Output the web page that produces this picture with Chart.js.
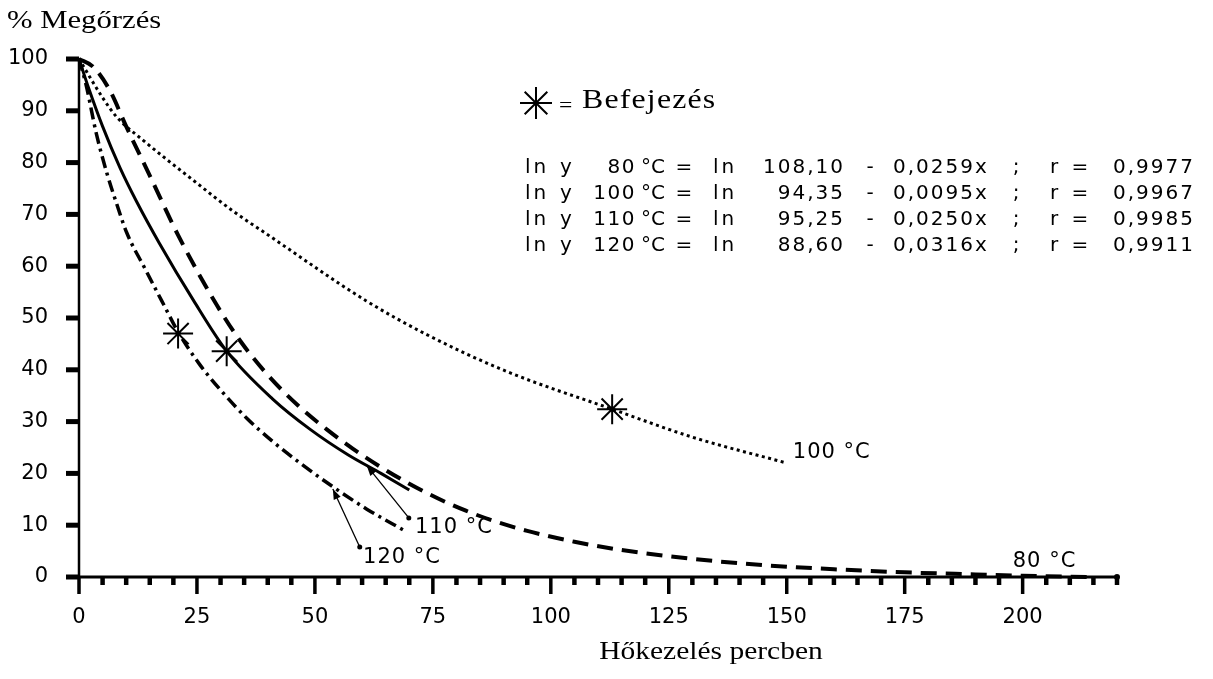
<!DOCTYPE html>
<html>
<head>
<meta charset="utf-8">
<script src="https://cdn.jsdelivr.net/npm/chart.js@4.4.1/dist/chart.umd.min.js"></script>
<style>
  html, body { margin: 0; background: #fff; }
  canvas { display: block; }
</style>
</head>
<body>
<canvas id="chart" width="1213" height="679"></canvas>
<script>
// Hőkezelés ideje (perc) és megőrzés (%) görbénként
const minutes80 = [0, 3, 6.5, 10, 15, 21, 29.2, 34, 39.8, 46.8, 52.5, 58, 64, 70, 76, 82, 88, 95, 105, 115, 130, 145, 160, 175, 190, 200, 214];
const retention80 = [100, 98.5, 94, 87, 77.5, 66, 52.5, 45.8, 39.2, 32.8, 28.5, 24.8, 21.2, 18, 15.2, 12.8, 10.8, 8.9, 6.8, 5.2, 3.5, 2.3, 1.5, 0.9, 0.5, 0.25, 0];

const minutes100 = [0, 5.1, 8, 13.6, 24.2, 32.7, 39.8, 60.9, 73.7, 90.6, 113, 130, 150];
const retention100 = [100, 92.4, 88.8, 84.3, 76.6, 70.6, 66.2, 53.3, 46.8, 39.7, 32.4, 27, 22];

const minutes110 = [0, 2, 5, 8.7, 12.2, 17, 24.2, 31.3, 41, 49, 57, 64, 70];
const retention110 = [100, 94.5, 87, 79, 72.5, 64.5, 53.5, 43.6, 34.4, 28.5, 23.6, 20, 16.8];

const minutes120 = [0, 1.5, 3.7, 5.9, 8, 10.1, 14, 18, 21, 25.6, 30, 35.5, 41, 47, 54, 61, 69.5];
const retention120 = [100, 95, 85.5, 78, 72, 66.5, 59.5, 52.5, 47.3, 41, 36.1, 30.7, 26.2, 21.9, 17.3, 13.1, 8.7];

// Befejezés pontok (csillag)
const finishMinutes = [21, 31.3, 113];
const finishRetention = [47, 43.6, 32.4];

// tengely feliratok
const xTickValues = [0, 25, 50, 75, 100, 125, 150, 175, 200];
const yTickValues = [0, 10, 20, 30, 40, 50, 60, 70, 80, 90, 100];

// regressziós egyenletek
const eqTemps = ['80', '100', '110', '120'];
const eqIntercepts = ['108,10', '94,35', '95,25', '88,60'];
const eqSlopes = ['0,0259x', '0,0095x', '0,0250x', '0,0316x'];
const eqR = ['0,9977', '0,9967', '0,9985', '0,9911'];

function zip(xs, ys) {
    return xs.map((x, i) => ({ x: x, y: ys[i] }));
}

Chart.defaults.font.family = '"DejaVu Sans"';
Chart.defaults.color = '#000';

function line(ctx, x1, y1, x2, y2) {
    ctx.beginPath();
    ctx.moveTo(x1, y1);
    ctx.lineTo(x2, y2);
    ctx.stroke();
}

function serifText(ctx, text, x, y, size, align) {
    ctx.save();
    ctx.font = size + 'px "Liberation Serif"';
    ctx.textBaseline = 'middle';
    ctx.textAlign = align;
    ctx.translate(x, y);
    ctx.scale(1.18, 1);
    ctx.fillText(text, 0, 0);
    ctx.restore();
}

const annotate = {
    id: 'annotate',
    beforeDatasetsDraw(chart) {
        const { ctx, chartArea: a, scales } = chart;
        const sx = scales.x, sy = scales.y;
        ctx.save();
        ctx.strokeStyle = '#000';
        ctx.fillStyle = '#000';
        // y tengely
        ctx.lineWidth = 2.5;
        line(ctx, a.left, a.top - 1, a.left, a.bottom);
        yTickValues.forEach(v => {
            const py = sy.getPixelForValue(v);
            ctx.lineWidth = 5;
            line(ctx, a.left - 13, py, a.left, py);
        });
        // x tengely
        ctx.lineWidth = 3;
        line(ctx, a.left, a.bottom, a.right, a.bottom);
        for (let v = 0; v <= 220; v += 5) {
            const px = sx.getPixelForValue(v);
            const major = v % 25 === 0;
            ctx.lineWidth = major ? 3.5 : 4.5;
            line(ctx, px, a.bottom, px, a.bottom + (major ? 17 : 8));
        }
        ctx.beginPath();
        ctx.arc(a.right, a.bottom, 3, 0, Math.PI * 2);
        ctx.fill();
        ctx.restore();
    },
    afterDatasetsDraw(chart) {
        const { ctx, scales } = chart;
        const sx = scales.x, sy = scales.y;
        const P = (x, y) => [sx.getPixelForValue(x), sy.getPixelForValue(y)];
        ctx.save();
        ctx.fillStyle = '#000';
        ctx.strokeStyle = '#000';

        // görbe feliratok
        ctx.font = '21px "DejaVu Sans"';
        ctx.letterSpacing = '1px';
        ctx.textBaseline = 'middle';
        ctx.textAlign = 'left';
        [['100 °C', 151.3, 24.1], ['80 °C', 197.9, 2.9], ['110 °C', 71.2, 9.5], ['120 °C', 60.2, 3.7]]
            .forEach(([t, x, y]) => {
                const p = P(x, y);
                ctx.fillText(t, p[0], p[1]);
            });

        // mutató nyilak
        [[[69.9, 11.4], [61, 21.5]], [[59.5, 5.8], [53.8, 17]]].forEach(([from, to]) => {
            const a = P(from[0], from[1]), b = P(to[0], to[1]);
            ctx.lineWidth = 1.3;
            line(ctx, a[0], a[1], b[0], b[1]);
            ctx.beginPath();
            ctx.arc(a[0], a[1], 2.5, 0, Math.PI * 2);
            ctx.fill();
            const ang = Math.atan2(b[1] - a[1], b[0] - a[0]);
            ctx.beginPath();
            ctx.moveTo(b[0], b[1]);
            ctx.lineTo(b[0] - 11 * Math.cos(ang - 0.35), b[1] - 11 * Math.sin(ang - 0.35));
            ctx.lineTo(b[0] - 11 * Math.cos(ang + 0.35), b[1] - 11 * Math.sin(ang + 0.35));
            ctx.closePath();
            ctx.fill();
        });

        // jelmagyarázat
        ctx.lineWidth = 2;
        Chart.helpers.drawPoint(ctx, { pointStyle: 'star', radius: 16, borderWidth: 2, rotation: 0 }, 536, 103);
        serifText(ctx, '=', 559, 107, 20, 'left');
        serifText(ctx, 'Befejezés', 582, 101, 27, 'left');

        // egyenletek
        ctx.font = '20px "DejaVu Sans"';
        ctx.textBaseline = 'middle';
        const rows = [168, 194, 220, 246];
        rows.forEach((ry, i) => {
            const put = (t, x, align, sp) => {
                ctx.letterSpacing = sp + 'px';
                ctx.textAlign = align;
                ctx.fillText(t, x, ry);
            };
            put('ln', 525, 'left', 3);
            put('y', 560, 'left', 0);
            put(eqTemps[i], 636, 'right', 1.5);
            put('°C', 641, 'left', 0);
            put('=', 684, 'center', 0);
            put('ln', 713, 'left', 3);
            put(eqIntercepts[i], 845, 'right', 2);
            put('-', 870, 'center', 0);
            put(eqSlopes[i], 893, 'left', 2);
            put(';', 1016, 'center', 0);
            put('r', 1050, 'left', 0);
            put('=', 1080, 'center', 0);
            put(eqR[i], 1113, 'left', 2);
        });
        ctx.letterSpacing = '0px';

        // tengelycímek
        serifText(ctx, '% Megőrzés', 7, 21, 26, 'left');
        serifText(ctx, 'Hőkezelés percben', 711, 652, 25, 'center');
        ctx.restore();
    }
};

const curveBase = {
    borderColor: '#000',
    backgroundColor: '#000',
    pointRadius: 0,
    pointHoverRadius: 0,
    fill: false,
    cubicInterpolationMode: 'monotone',
    clip: false
};

new Chart(document.getElementById('chart'), {
    type: 'line',
    data: {
        datasets: [
            Object.assign({}, curveBase, { label: '80 °C', data: zip(minutes80, retention80), borderWidth: 4, borderDash: [16, 9] }),
            Object.assign({}, curveBase, { label: '100 °C', data: zip(minutes100, retention100), borderWidth: 3, borderDash: [3, 3.5] }),
            Object.assign({}, curveBase, { label: '110 °C', data: zip(minutes110, retention110), borderWidth: 3 }),
            Object.assign({}, curveBase, { label: '120 °C', data: zip(minutes120, retention120), borderWidth: 3.5, borderDash: [12, 5, 3, 5] }),
            {
                label: 'Befejezés',
                data: zip(finishMinutes, finishRetention),
                showLine: false,
                pointStyle: 'star',
                pointRadius: 15,
                pointHoverRadius: 15,
                pointBorderWidth: 2,
                pointBorderColor: '#000',
                pointBackgroundColor: '#000',
                clip: false
            }
        ]
    },
    options: {
        responsive: false,
        animation: false,
        events: [],
        layout: { padding: { top: 59, right: 96, left: 0, bottom: 0 } },
        plugins: {
            legend: { display: false },
            tooltip: { enabled: false }
        },
        scales: {
            x: {
                type: 'linear',
                min: 0,
                max: 220,
                afterFit: s => { s.height = 102; },
                afterBuildTicks: s => { s.ticks = xTickValues.map(v => ({ value: v })); },
                grid: { display: false, drawTicks: false },
                border: { display: false },
                ticks: { font: { size: 21 }, padding: 28, maxRotation: 0, autoSkip: false }
            },
            y: {
                min: 0,
                max: 100,
                afterFit: s => { s.width = 79; },
                afterBuildTicks: s => { s.ticks = yTickValues.map(v => ({ value: v })); },
                grid: { display: false, drawTicks: false },
                border: { display: false },
                ticks: { font: { size: 21 }, padding: 31 }
            }
        }
    },
    plugins: [annotate]
});
</script>
</body>
</html>
